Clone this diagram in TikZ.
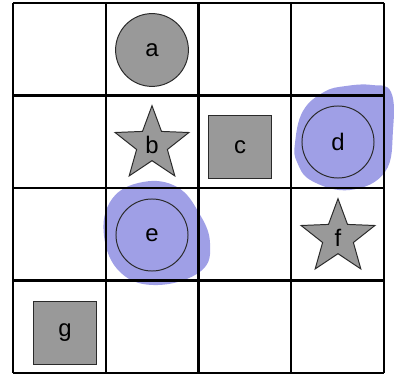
\documentclass[tikz,border=0pt]{standalone}
\usepackage{fontspec}
\setmainfont{Liberation Sans}
\usepackage{tikz}
\usetikzlibrary{shapes.geometric}
\definecolor{tokengray}{HTML}{999999}
\definecolor{tokenedge}{HTML}{2A2A2A}
\definecolor{marklavender}{HTML}{9F9FE6}
\tikzset{
  gridline/.style={line width=1.6pt,black},
  token/.style={draw=tokenedge,line width=0.7pt,fill=tokengray,inner sep=0pt,font=\fontsize{17}{20}\selectfont},
  disc/.style={token,circle,minimum size=1.82cm},
  ring/.style={token,circle,fill=none,minimum size=1.8cm},
  starpiece/.style={token,star,star points=5,star point ratio=2.4,minimum size=1.94cm},
  block/.style={token,rectangle,minimum size=1.56cm},
  highlight/.style={fill=marklavender,draw=none}
}
\begin{document}
\begin{tikzpicture}[x=0.025cm,y=-0.025cm]
  \useasboundingbox (0,0) rectangle (397,374);
  % highlighted cells
  \fill[highlight] plot[smooth cycle,tension=0.7] coordinates {(295,143) (303,111) (324,92) (346,86) (372,85) (391,92) (393,130) (385,172) (350,190) (312,181) (297,162)};
  \fill[highlight] plot[smooth cycle,tension=0.7] coordinates {(104,236) (112,199) (143,182) (177,187) (199,213) (210,243) (201,271) (158,285) (121,273)};
  % board
  \foreach \x in {13,105.8,198.5,291.3,384} \draw[gridline] (\x,3) -- (\x,373);
  \foreach \y in {3,95.5,188,280.5,373} \draw[gridline] (13,\y) -- (384,\y);
  % pieces
  \node[disc] (a) at (152,50) {a};
  \node[starpiece] (b) at (152,144.5) {b};
  \node[block] (c) at (240,147) {c};
  \node[ring] (d) at (338,142) {d};
  \node[ring] (e) at (152,235) {e};
  \node[starpiece] (f) at (338,237.5) {f};
  \node[block] (g) at (65,333) {g};
\end{tikzpicture}
\end{document}
